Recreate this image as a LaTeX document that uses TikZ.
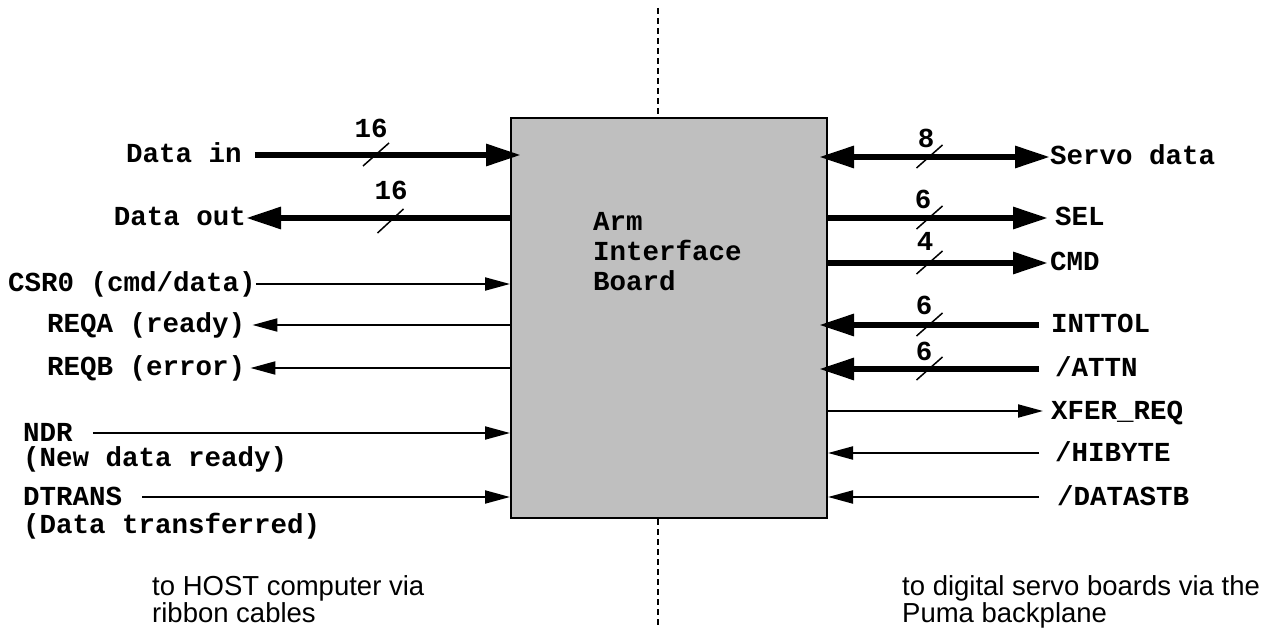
\documentclass[tikz,border=0pt]{standalone}
\usepackage{fontspec}
\setmainfont{Liberation Sans}
\setmonofont{Liberation Mono}
\usetikzlibrary{arrows.meta}
\definecolor{boxgray}{gray}{0.75}
\tikzset{
  lbl/.style={font=\fontsize{27.5}{30}\selectfont\ttfamily\bfseries, inner sep=0pt, text height=16pt, text depth=0pt},
  titletext/.style={font=\fontsize{27.5}{30}\selectfont\ttfamily\bfseries, inner sep=0pt, align=left},
  bus/.style={line width=6pt, -{Triangle[length=35pt,width=21pt]}},
  busboth/.style={line width=6pt, {Triangle[length=35pt,width=21pt]}-{Triangle[length=35pt,width=21pt]}},
  sig/.style={line width=2pt, -{Triangle[length=25pt,width=13pt]}},
  slash/.style={line width=1.5pt},
  note/.style={font=\fontsize{27.5}{27.5}\selectfont, inner sep=0pt, align=left, anchor=north west},
  divider/.style={line width=2.5pt, dash pattern=on 6pt off 4pt},
}
\begin{document}
\begin{tikzpicture}[x=1pt,y=-1pt]
\useasboundingbox (0,0) rectangle (1275,628);

% board
\node[draw, line width=2pt, fill=boxgray, minimum width=316pt, minimum height=400pt, anchor=north west, inner sep=0pt] (board) at (510,117) {};
\node[titletext, anchor=west] (title) at (593,252) {Arm\\Interface\\Board};

% divider
\coordinate (dtop) at (658,8);
\coordinate (dbot) at (658,628);
\draw[divider] (dtop) -- (dtop |- board.north);
\draw[divider] (dbot |- board.south) -- (dbot);

% left side
\node[lbl, anchor=west] (din) at (126,155) {Data in};
\draw[bus, shorten <=13pt, shorten >=-11pt] (din.east) -- (board.west |- din.east);
\node[lbl] (n16a) at (371,130) {16};
\draw[slash] (376,155) ++(-13,11) -- ++(26,-23);

\node[lbl, anchor=east] (dout) at (246,218) {Data out};
\draw[bus] (board.west |- dout.east) -- (dout.east);
\node[lbl] (n16b) at (391,192) {16};
\draw[slash] (390.5,221) ++(-13,12) -- ++(26,-24);

\node[lbl, anchor=west] (csr) at (8,284) {CSR0 (cmd/data)};
\draw[sig] (csr.east) -- (board.west |- csr.east);

\node[lbl, anchor=west] (reqa) at (47,325) {REQA (ready)};
\draw[sig, shorten >=7pt] (board.west |- reqa.east) -- (reqa.east);

\node[lbl, anchor=west] (reqb) at (47,368) {REQB (error)};
\draw[sig, shorten >=5pt] (board.west |- reqb.east) -- (reqb.east);

\node[lbl, anchor=west] (ndr) at (23,433) {NDR};
\node[lbl, anchor=west] (ndrtxt) at (23,458) {(New data ready)};
\draw[sig, shorten <=20pt] (ndr.east) -- (board.west |- ndr.east);

\node[lbl, anchor=west] (dtr) at (23,497) {DTRANS};
\node[lbl, anchor=west] (dtrtxt) at (23,525) {(Data transferred)};
\draw[sig, shorten <=20pt] (dtr.east) -- (board.west |- dtr.east);

% right side
\node[lbl, anchor=west] (sd) at (1050,157) {Servo data};
\draw[busboth, shorten <=-9pt] (board.east |- sd.west) -- (sd.west);
\node[lbl] (n8) at (926,140) {8};
\draw[slash] (929.5,157) ++(-13,11) -- ++(26,-23);

\node[lbl, anchor=west] (sel) at (1055,218) {SEL};
\draw[bus, shorten >=7pt] (board.east |- sel.west) -- (sel.west);
\node[lbl] (n6a) at (923,201) {6};
\draw[slash] (929.5,218) ++(-13,11) -- ++(26,-23);

\node[lbl, anchor=west] (cmd) at (1050,263) {CMD};
\draw[bus, shorten >=2pt] (board.east |- cmd.west) -- (cmd.west);
\node[lbl] (n4) at (925,243) {4};
\draw[slash] (929.5,263) ++(-13,11) -- ++(26,-23);

\node[lbl, anchor=west] (inttol) at (1051,325) {INTTOL};
\draw[bus, shorten <=12pt, shorten >=-9pt] (inttol.west) -- (board.east |- inttol.west);
\node[lbl] (n6b) at (924,307) {6};
\draw[slash] (929.5,325) ++(-13,11) -- ++(26,-23);

\node[lbl, anchor=west] (attn) at (1055,369) {/ATTN};
\draw[bus, shorten <=16pt, shorten >=-9pt] (attn.west) -- (board.east |- attn.west);
\node[lbl] (n6c) at (924,352) {6};
\draw[slash] (929.5,369) ++(-13,11) -- ++(26,-23);

\node[lbl, anchor=west] (xfer) at (1051,411) {XFER\_REQ};
\draw[sig, shorten >=8pt] (board.east |- xfer.west) -- (xfer.west);

\node[lbl, anchor=west] (hib) at (1055,453) {/HIBYTE};
\draw[sig, shorten <=16pt] (hib.west) -- (board.east |- hib.west);

\node[lbl, anchor=west] (dstb) at (1057,497) {/DATASTB};
\draw[sig, shorten <=18pt] (dstb.west) -- (board.east |- dstb.west);

% notes
\node[note] (hostnote) at (152,575) {to HOST computer via\\ribbon cables};
\node[note] (servonote) at (902,575) {to digital servo boards via the\\Puma backplane};
\end{tikzpicture}
\end{document}
